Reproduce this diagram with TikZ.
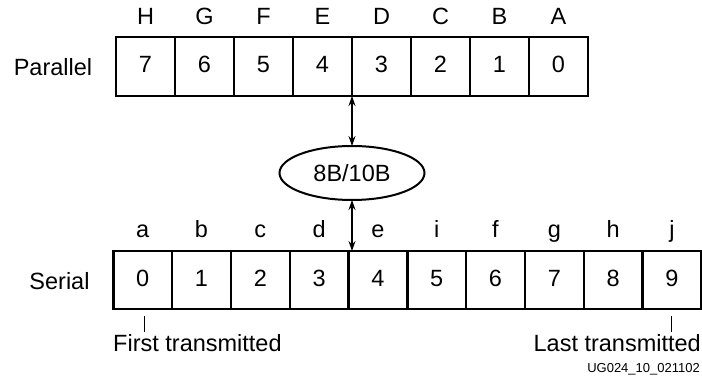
\documentclass[tikz,border=0pt]{standalone}
\usepackage{fontspec}
\setmainfont{Liberation Sans}
\usetikzlibrary{shapes.geometric,arrows.meta}
\tikzset{
  bigtext/.style={font=\fontsize{23.5}{27}\selectfont},
  cell/.style={draw, line width=2.4pt, minimum width=59pt, minimum height=59pt, inner sep=0pt, outer sep=0pt, text height=13pt, text depth=0pt, bigtext},
  scell/.style={cell, minimum width=58.8pt, minimum height=58pt, text height=14pt},
  lbl/.style={anchor=base, inner sep=0pt, bigtext},
  rowlbl/.style={anchor=base, inner sep=0pt, bigtext},
  enc/.style={draw, ellipse, line width=2pt, minimum width=145pt, minimum height=54pt, inner sep=0pt, outer sep=0pt, bigtext},
  biarrow/.style={line width=1.1pt, {Stealth[length=10pt,width=7pt]}-{Stealth[length=10pt,width=7pt]}},
  tick/.style={line width=1pt},
  note/.style={anchor=base, inner sep=0pt, bigtext},
  fig/.style={anchor=base east, inner sep=0pt, font=\fontsize{13}{15}\selectfont}
}
\begin{document}
\begin{tikzpicture}[x=1pt,y=-1pt]
\useasboundingbox (0,0) rectangle (702,379);
% Parallel row
\node[rowlbl] (plabel) at (53,76) {Parallel};
\foreach \d/\l [count=\i from 0] in {7/H,6/G,5/F,4/E,3/D,2/C,1/B,0/A} {
  \node[cell] (p\i) at ({116+29.5+59*\i},66.5) {\d};
  \node[lbl] (pl\i) at ({116+29.5+59*\i},25) {\l};
}
% Encoder
\node[enc] (enc) at (352,173) {8B/10B};
\draw[biarrow] (enc.north |- p3.south) -- (enc.north);
% Serial row
\node[rowlbl] (slabel) at (59.5,290) {Serial};
\foreach \d/\l [count=\i from 0] in {0/a,1/b,2/c,3/d,4/e,5/i,6/f,7/g,8/h,9/j} {
  \node[scell] (s\i) at ({113.3+29.4+58.8*\i},280) {\d};
  \node[lbl] (sl\i) at ({113.3+29.4+58.8*\i},238) {\l};
}
\draw[biarrow] (enc.south) -- (enc.south |- s4.north);
% Notes
\coordinate (ft) at (144,316);
\coordinate (lt) at (671,316);
\draw[tick] (ft) -- ++(0,16);
\draw[tick] (lt) -- ++(0,16);
\node[note, anchor=base west] (first) at (113,352) {First transmitted};
\node[note, anchor=base east] (last) at (701,352) {Last transmitted};
\node[fig] (figid) at (700,373) {UG024\_10\_021102};
\end{tikzpicture}
\end{document}
